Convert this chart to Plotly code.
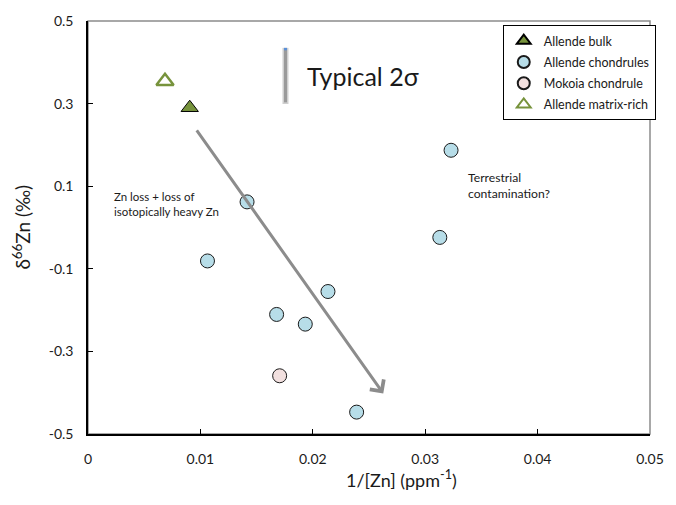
import plotly.graph_objects as go

# ---- data ----
bulk_x = [0.00905]
bulk_y = [0.29]

matrix_x = [0.00685]
matrix_y = [0.354]

chond_x = [0.0323, 0.0313, 0.01415, 0.01063, 0.02135, 0.01678, 0.01933, 0.0239]
chond_y = [0.187, -0.024, 0.062, -0.081, -0.155, -0.2105, -0.234, -0.447]

mokoia_x = [0.01705]
mokoia_y = [-0.359]

arrow_start = (0.00958, 0.239)
arrow_end = (0.02627, -0.402)

sigma_x = 0.01757
sigma_top = 0.435
sigma_bottom = 0.299

x_ticks = [0, 0.01, 0.02, 0.03, 0.04, 0.05]
x_ticklabels = ["0", "0.01", "0.02", "0.03", "0.04", "0.05"]
y_ticks = [-0.5, -0.3, -0.1, 0.1, 0.3, 0.5]
y_ticklabels = ["-0.5", "-0.3", "-0.1", "0.1", "0.3", "0.5"]

FONT = "Lato"
TXT = "#1a1a1a"

fig = go.Figure()

# typical 2 sigma bar (soft grey bar with lighter edges)
fig.add_trace(go.Scatter(
    x=[sigma_x, sigma_x], y=[sigma_bottom, sigma_top], mode="lines",
    line=dict(color="#cfcfcf", width=6), showlegend=False, hoverinfo="skip"))
fig.add_trace(go.Scatter(
    x=[sigma_x, sigma_x], y=[sigma_bottom + 0.004, sigma_top - 0.004], mode="lines",
    line=dict(color="#9a9a9a", width=3), showlegend=False, hoverinfo="skip"))
fig.add_trace(go.Scatter(
    x=[sigma_x, sigma_x], y=[sigma_top - 0.006, sigma_top], mode="lines",
    line=dict(color="#5b8fd6", width=3), showlegend=False, hoverinfo="skip"))

fig.add_trace(go.Scatter(
    x=bulk_x, y=bulk_y, mode="markers", name="Allende bulk", legendgroup="a",
    marker=dict(symbol="triangle-up", size=15, color="#77933C",
                line=dict(color="#000000", width=1))))
fig.add_trace(go.Scatter(
    x=chond_x, y=chond_y, mode="markers", name="Allende chondrules", legendgroup="b",
    marker=dict(symbol="circle", size=14, color="#b7dde8",
                line=dict(color="#1a1a1a", width=1))))
fig.add_trace(go.Scatter(
    x=mokoia_x, y=mokoia_y, mode="markers", name="Mokoia chondrule", legendgroup="c",
    marker=dict(symbol="circle", size=14, color="#f2e0df",
                line=dict(color="#1a1a1a", width=1))))
fig.add_trace(go.Scatter(
    x=matrix_x, y=matrix_y, mode="markers", name="Allende matrix-rich", legendgroup="d",
    marker=dict(symbol="triangle-up-open", size=15, color="#77933C",
                line=dict(color="#77933C", width=2.5))))

# arrow
fig.add_annotation(
    x=arrow_end[0], y=arrow_end[1], ax=arrow_start[0], ay=arrow_start[1],
    xref="x", yref="y", axref="x", ayref="y", text="", showarrow=True,
    arrowhead=4, arrowsize=1.1, arrowwidth=3, arrowcolor="#8c8c8c")

fig.add_annotation(
    x=0.0193, y=0.367, xref="x", yref="y", text="Typical 2σ", showarrow=False,
    xanchor="left", yanchor="middle", font=dict(family=FONT, size=25, color=TXT))

fig.add_annotation(
    x=0.0021, y=0.095, xref="x", yref="y",
    text="Zn loss + loss of<br>isotopically heavy Zn", showarrow=False,
    xanchor="left", yanchor="top", align="left",
    font=dict(family=FONT, size=11.5, color=TXT))

fig.add_annotation(
    x=0.0336, y=0.143, xref="x", yref="y",
    text="Terrestrial<br>contamination?", showarrow=False,
    xanchor="left", yanchor="top", align="left",
    font=dict(family=FONT, size=12.2, color=TXT))

# axis titles
fig.add_annotation(
    x=0.557, y=-0.11, xref="paper", yref="paper", yanchor="middle",
    text="1/[Zn] (ppm<sup>-1</sup>)", showarrow=False,
    font=dict(family=FONT, size=18, color=TXT))
fig.add_annotation(
    x=-0.119, y=0.5, xref="paper", yref="paper", xanchor="center", yanchor="middle",
    text="δ<sup>66</sup>Zn (‰)", showarrow=False, textangle=-90,
    font=dict(family=FONT, size=19, color=TXT))

# grey frame on plot area
fig.add_shape(type="rect", xref="paper", yref="paper", x0=0, y0=0, x1=1, y1=1,
              line=dict(color="#8c8c8c", width=1.5), layer="below")

axis_common = dict(showgrid=False, zeroline=False, showline=True,
                   linecolor="#000000", linewidth=1.5, ticks="inside",
                   ticklen=5, tickcolor="#000000",
                   tickfont=dict(family=FONT, size=14, color=TXT))

fig.update_xaxes(range=[0, 0.05], tickvals=x_ticks, ticktext=x_ticklabels,
                 ticklabelstandoff=11, **axis_common)
fig.update_yaxes(range=[-0.5, 0.5], tickvals=y_ticks, ticktext=y_ticklabels,
                 ticklabelstandoff=10, **axis_common)

fig.update_layout(
    width=676, height=505,
    margin=dict(l=88, r=19, t=16, b=71),
    plot_bgcolor="white", paper_bgcolor="white",
    font=dict(family=FONT, color=TXT),
    legend=dict(x=0.738, y=0.99, xanchor="left", yanchor="top",
                bgcolor="white", bordercolor="#000000", borderwidth=1,
                font=dict(family=FONT, size=12.5, color=TXT),
                itemsizing="constant", traceorder="grouped",
                tracegroupgap=2, itemwidth=30),
)

fig.write_html("out.html")
